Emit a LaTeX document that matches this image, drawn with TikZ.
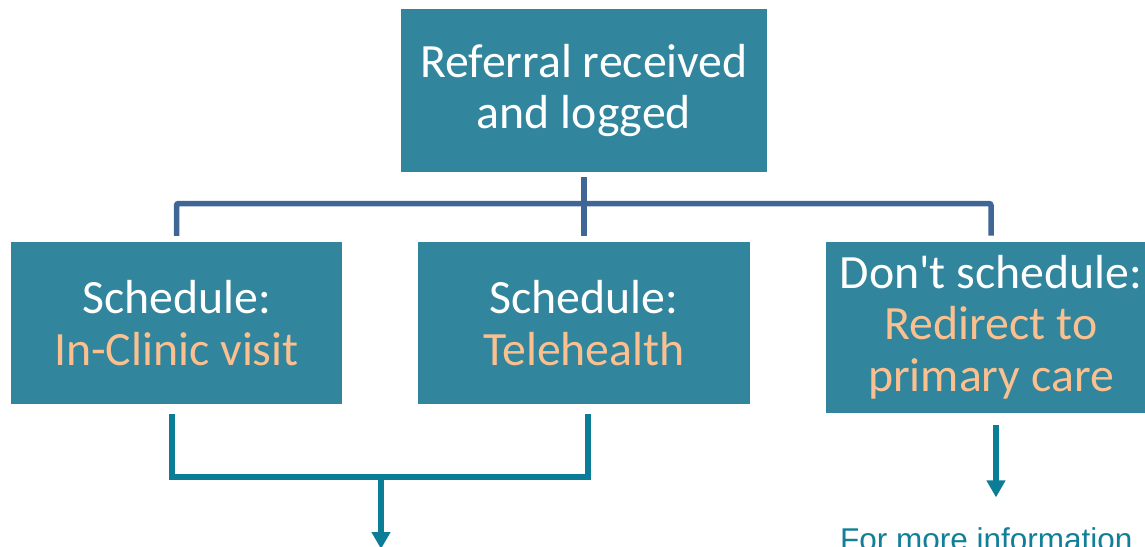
\documentclass[tikz,border=0pt]{standalone}
\usepackage{fontspec}
\setmainfont{Carlito}[Ligatures=TeXOff]
\newfontfamily\infofont{Liberation Sans}
\usetikzlibrary{arrows.meta}

\definecolor{boxfill}{HTML}{31859C}
\definecolor{accent}{HTML}{FAC090}
\definecolor{trunkline}{HTML}{406696}
\definecolor{mergeline}{HTML}{0B7D96}
\definecolor{infotext}{HTML}{127F99}

\tikzset{
  stepbox/.style={fill=boxfill, draw=none, inner sep=0pt, align=center,
    text=white, font=\fontsize{47.8}{51.5}\selectfont},
  trunk/.style={draw=trunkline, line width=5.5pt, rounded corners=2pt},
  merge/.style={draw=mergeline, line width=5.5pt},
  outarrow/.style={merge, -{Triangle[length=17pt,width=18pt]}},
  hl/.style={text=accent}
}

\begin{document}
\begin{tikzpicture}[x=1pt, y=-1pt]
  \useasboundingbox (0,0) rectangle (1145,546);
  \clip (0,0) rectangle (1145,546);

  % process boxes
  \node[stepbox, minimum width=366pt, minimum height=163pt] (ref) at (584,90.5)
    {Referral received\\and logged};
  \node[stepbox, minimum width=331pt, minimum height=162pt] (clinic) at (176.5,323)
    {Schedule:\\\textcolor{accent}{In-Clinic visit}};
  \node[stepbox, minimum width=332pt, minimum height=162pt] (tele) at (584,323)
    {Schedule:\\\textcolor{accent}{Telehealth}};
  \node[stepbox, minimum width=330pt, minimum height=171pt] (redir) at (991,327.2)
    {Don't schedule:\\\textcolor{accent}{Redirect to}\\\textcolor{accent}{primary care}};

  % branching from the referral to the three options
  \coordinate (hub) at (584,203.5);
  \draw[trunk] ([yshift=-5pt]ref.south) -- ([yshift=6pt]tele.north);
  \draw[trunk] ([yshift=6pt]clinic.north) |- (hub) -| ([yshift=6pt]redir.north);

  % scheduled paths merge into one outflow
  \coordinate (join) at (381,477);
  \coordinate (outA) at (381,549);
  \draw[merge] ([xshift=-4.5pt,yshift=-10pt]clinic.south) |- (join)
    -| ([xshift=4pt,yshift=-10pt]tele.south);
  \draw[outarrow] (join) -- (outA);

  % redirect path
  \coordinate (redirEnd) at ([xshift=5pt,yshift=-84.5pt]redir.south);
  \draw[outarrow] ([xshift=5pt,yshift=-12pt]redir.south) -- (redirEnd);

  \node[anchor=base west, inner sep=0pt, text=infotext,
        font=\infofont\fontsize{31.5}{36}\selectfont] (info) at (840,550)
    {For more information};
\end{tikzpicture}
\end{document}
